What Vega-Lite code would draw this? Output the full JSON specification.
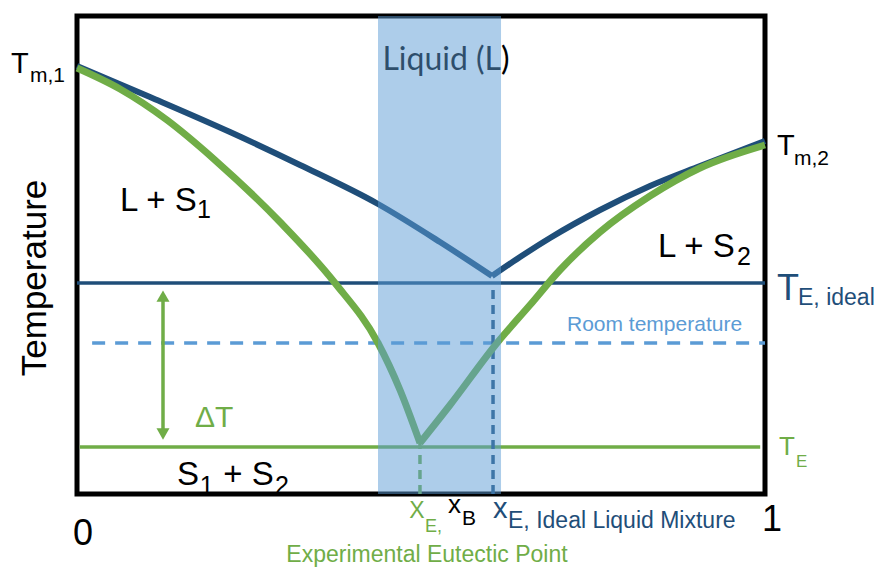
{
  "$schema": "https://vega.github.io/schema/vega-lite/v6.json",
  "width": 688,
  "height": 478,
  "autosize": {"type": "none"},
  "padding": {"left": 77, "top": 16, "right": 112, "bottom": 73},
  "config": {"view": {"stroke": "#000000", "strokeWidth": 5}, "font": "Liberation Sans"},
  "encoding": {
    "x": {"field": "x", "type": "quantitative", "scale": {"domain": [0, 1], "nice": false, "zero": false}, "axis": null},
    "y": {"field": "y", "type": "quantitative", "scale": {"domain": [0, 1], "nice": false, "zero": false}, "axis": null}
  },
  "layer": [
    {
      "data": {"values": [{"x": 0, "x2": 1, "y": 0.4414}]},
      "mark": {"type": "rule", "color": "#1F4E79", "strokeWidth": 3.5},
      "encoding": {"x2": {"field": "x2"}}
    },
    {
      "data": {"values": [{"x": 0.022, "x2": 1, "y": 0.3159}]},
      "mark": {"type": "rule", "color": "#5B9BD5", "strokeWidth": 3.5, "strokeDash": [13, 10]},
      "encoding": {"x2": {"field": "x2"}}
    },
    {
      "data": {"values": [{"x": 0.004, "x2": 0.993, "y": 0.0983}]},
      "mark": {"type": "rule", "color": "#70AD47", "strokeWidth": 3.5},
      "encoding": {"x2": {"field": "x2"}}
    },
    {
      "data": {"values": [{"x": 0.4985, "y": 0, "y2": 0.1067}]},
      "mark": {"type": "rule", "color": "#70AD47", "strokeWidth": 3.5, "strokeDash": [9, 6]},
      "encoding": {"y2": {"field": "y2"}}
    },
    {
      "data": {"values": [{"x": 0.6047, "y": 0, "y2": 0.4414}]},
      "mark": {"type": "rule", "color": "#1F4E79", "strokeWidth": 3.5, "strokeDash": [9, 6]},
      "encoding": {"y2": {"field": "y2"}}
    },
    {
      "data": {"values": [{"x": 0.125, "y": 0.1255, "y2": 0.414}]},
      "mark": {"type": "rule", "color": "#70AD47", "strokeWidth": 3.5},
      "encoding": {"y2": {"field": "y2"}}
    },
    {
      "data": {"values": [{"x": 0.125, "y": 0.414}]},
      "mark": {"type": "point", "shape": "triangle-up", "filled": true, "color": "#70AD47", "size": 170, "opacity": 1}
    },
    {
      "data": {"values": [{"x": 0.125, "y": 0.1255}]},
      "mark": {"type": "point", "shape": "triangle-down", "filled": true, "color": "#70AD47", "size": 170, "opacity": 1}
    },
    {
      "data": {"values": [
        {"b": "left", "x": 0, "y": 0.8954},
        {"b": "left", "x": 0.1061, "y": 0.8305},
        {"b": "left", "x": 0.2224, "y": 0.7573},
        {"b": "left", "x": 0.3241, "y": 0.6883},
        {"b": "left", "x": 0.4375, "y": 0.6067},
        {"b": "left", "x": 0.5276, "y": 0.5272},
        {"b": "left", "x": 0.6032, "y": 0.4561},
        {"b": "right", "x": 0.6032, "y": 0.4561},
        {"b": "right", "x": 0.6439, "y": 0.4958},
        {"b": "right", "x": 0.6875, "y": 0.5356},
        {"b": "right", "x": 0.7602, "y": 0.5941},
        {"b": "right", "x": 0.8328, "y": 0.6444},
        {"b": "right", "x": 0.9055, "y": 0.6862},
        {"b": "right", "x": 1.0, "y": 0.7385}
      ]},
      "mark": {"type": "line", "color": "#1F4E79", "strokeWidth": 6, "interpolate": "monotone"},
      "encoding": {"detail": {"field": "b"}}
    },
    {
      "data": {"values": [
        {"b": "left", "x": 0, "y": 0.8912},
        {"b": "left", "x": 0.0625, "y": 0.8473},
        {"b": "left", "x": 0.1308, "y": 0.7824},
        {"b": "left", "x": 0.2006, "y": 0.6987},
        {"b": "left", "x": 0.2951, "y": 0.569},
        {"b": "left", "x": 0.375, "y": 0.4414},
        {"b": "left", "x": 0.4375, "y": 0.3159},
        {"b": "left", "x": 0.4695, "y": 0.2176},
        {"b": "left", "x": 0.4985, "y": 0.1067},
        {"b": "right", "x": 0.4985, "y": 0.1067},
        {"b": "right", "x": 0.5422, "y": 0.1862},
        {"b": "right", "x": 0.6105, "y": 0.3159},
        {"b": "right", "x": 0.6584, "y": 0.3954},
        {"b": "right", "x": 0.702, "y": 0.4686},
        {"b": "right", "x": 0.7602, "y": 0.5481},
        {"b": "right", "x": 0.8328, "y": 0.6234},
        {"b": "right", "x": 0.9055, "y": 0.682},
        {"b": "right", "x": 1.0, "y": 0.7301}
      ]},
      "mark": {"type": "line", "color": "#70AD47", "strokeWidth": 7, "interpolate": "monotone"},
      "encoding": {"detail": {"field": "b"}}
    },
    {
      "data": {"values": [{"x": 0.5363, "y": 0.887, "t": "Liquid (L)"}]},
      "mark": {"type": "text", "align": "center", "baseline": "alphabetic", "font": "Lato", "fontSize": 32, "color": "#000000"},
      "encoding": {"text": {"field": "t"}}
    },
    {
      "data": {"values": [{"x": 0.4375, "x2": 0.6163, "y": 0, "y2": 1}]},
      "mark": {"type": "rect", "color": "#5B9BD5", "opacity": 0.5},
      "encoding": {"x2": {"field": "x2"}, "y2": {"field": "y2"}}
    },
    {
      "data": {"values": [{"x": -0.061, "y": 0.4519, "t": "Temperature"}]},
      "mark": {"type": "text", "align": "center", "baseline": "middle", "angle": 270, "fontSize": 35, "color": "#000000"},
      "encoding": {"text": {"field": "t"}}
    },
    {
      "data": {"values": [
        {"x": 0.0625, "y": 0.592, "t": "L + S"},
        {"x": 0.8445, "y": 0.4958, "t": "L + S"},
        {"x": 0.1453, "y": 0.0188, "t": "S"},
        {"x": 0.2125, "y": 0.0188, "t": "+ S"}
      ]},
      "mark": {"type": "text", "align": "left", "baseline": "alphabetic", "fontSize": 33, "color": "#000000"},
      "encoding": {"text": {"field": "t"}}
    },
    {
      "data": {"values": [
        {"x": 0.1745, "y": 0.5774, "t": "1"},
        {"x": 0.9593, "y": 0.4791, "t": "2"},
        {"x": 0.1785, "y": 0.0, "t": "1"},
        {"x": 0.2878, "y": 0.0, "t": "2"}
      ]},
      "mark": {"type": "text", "align": "left", "baseline": "alphabetic", "fontSize": 25, "color": "#000000"},
      "encoding": {"text": {"field": "t"}}
    },
    {
      "data": {"values": [
        {"x": -0.096, "y": 0.8808, "t": "T"},
        {"x": 1.0174, "y": 0.7092, "t": "T"}
      ]},
      "mark": {"type": "text", "align": "left", "baseline": "alphabetic", "fontSize": 29, "color": "#000000"},
      "encoding": {"text": {"field": "t"}}
    },
    {
      "data": {"values": [
        {"x": -0.0684, "y": 0.8619, "t": "m,1"},
        {"x": 1.0422, "y": 0.6883, "t": "m,2"}
      ]},
      "mark": {"type": "text", "align": "left", "baseline": "alphabetic", "fontSize": 21, "color": "#000000"},
      "encoding": {"text": {"field": "t"}}
    },
    {
      "data": {"values": [{"x": 1.0174, "y": 0.4059, "t": "T"}]},
      "mark": {"type": "text", "align": "left", "baseline": "alphabetic", "fontSize": 36, "color": "#1F4E79"},
      "encoding": {"text": {"field": "t"}}
    },
    {
      "data": {"values": [{"x": 1.048, "y": 0.3954, "t": "E, ideal"}]},
      "mark": {"type": "text", "align": "left", "baseline": "alphabetic", "fontSize": 23, "color": "#1F4E79"},
      "encoding": {"text": {"field": "t"}}
    },
    {
      "data": {"values": [{"x": 1.0203, "y": 0.0816, "t": "T"}]},
      "mark": {"type": "text", "align": "left", "baseline": "alphabetic", "fontSize": 26, "color": "#70AD47"},
      "encoding": {"text": {"field": "t"}}
    },
    {
      "data": {"values": [{"x": 1.0451, "y": 0.0565, "t": "E"}]},
      "mark": {"type": "text", "align": "left", "baseline": "alphabetic", "fontSize": 17, "color": "#70AD47"},
      "encoding": {"text": {"field": "t"}}
    },
    {
      "data": {"values": [{"x": 0.1715, "y": 0.1402, "t": "ΔT"}]},
      "mark": {"type": "text", "align": "left", "baseline": "alphabetic", "fontSize": 30, "color": "#70AD47"},
      "encoding": {"text": {"field": "t"}}
    },
    {
      "data": {"values": [{"x": 0.7122, "y": 0.341, "t": "Room temperature"}]},
      "mark": {"type": "text", "align": "left", "baseline": "alphabetic", "fontSize": 21, "color": "#5B9BD5"},
      "encoding": {"text": {"field": "t"}}
    },
    {
      "data": {"values": [
        {"x": 0.0087, "y": -0.1067, "t": "0"},
        {"x": 1.0102, "y": -0.0774, "t": "1"}
      ]},
      "mark": {"type": "text", "align": "center", "baseline": "alphabetic", "fontSize": 36, "color": "#000000"},
      "encoding": {"text": {"field": "t"}}
    },
    {
      "data": {"values": [{"x": 0.483, "y": -0.0502, "t": "X"}]},
      "mark": {"type": "text", "align": "left", "baseline": "alphabetic", "fontSize": 23, "color": "#70AD47"},
      "encoding": {"text": {"field": "t"}}
    },
    {
      "data": {"values": [{"x": 0.5058, "y": -0.0795, "t": "E,"}]},
      "mark": {"type": "text", "align": "left", "baseline": "alphabetic", "fontSize": 18, "color": "#70AD47"},
      "encoding": {"text": {"field": "t"}}
    },
    {
      "data": {"values": [{"x": 0.5392, "y": -0.0397, "t": "x"}]},
      "mark": {"type": "text", "align": "left", "baseline": "alphabetic", "fontSize": 26, "color": "#000000"},
      "encoding": {"text": {"field": "t"}}
    },
    {
      "data": {"values": [{"x": 0.5596, "y": -0.0649, "t": "B"}]},
      "mark": {"type": "text", "align": "left", "baseline": "alphabetic", "fontSize": 21, "color": "#000000"},
      "encoding": {"text": {"field": "t"}}
    },
    {
      "data": {"values": [{"x": 0.6047, "y": -0.0502, "t": "x"}]},
      "mark": {"type": "text", "align": "left", "baseline": "alphabetic", "fontSize": 29, "color": "#1F4E79"},
      "encoding": {"text": {"field": "t"}}
    },
    {
      "data": {"values": [{"x": 0.6265, "y": -0.0711, "t": "E, Ideal Liquid Mixture"}]},
      "mark": {"type": "text", "align": "left", "baseline": "alphabetic", "fontSize": 23, "color": "#1F4E79"},
      "encoding": {"text": {"field": "t"}}
    },
    {
      "data": {"values": [{"x": 0.5087, "y": -0.1423, "t": "Experimental Eutectic Point"}]},
      "mark": {"type": "text", "align": "center", "baseline": "alphabetic", "fontSize": 23, "color": "#70AD47"},
      "encoding": {"text": {"field": "t"}}
    }
  ]
}
